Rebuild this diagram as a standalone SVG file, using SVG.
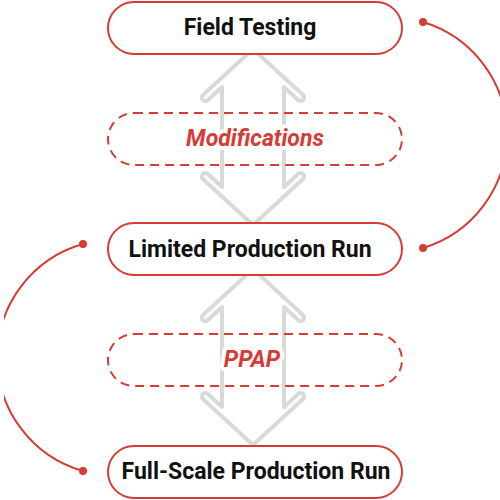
<svg xmlns="http://www.w3.org/2000/svg" width="500" height="500" viewBox="0 0 500 500">
<style>
.node rect{fill:#fff;stroke:#d63b35;stroke-width:2}
.dash rect{fill:none;stroke:#d63b35;stroke-width:2;stroke-dasharray:9 6}
.lbl{font-family:Roboto,"Liberation Sans",sans-serif;font-weight:bold;font-size:23px;fill:#111;text-anchor:middle}
.dlbl{font-family:Roboto,"Liberation Sans",sans-serif;font-weight:bold;font-style:italic;font-size:23px;fill:#d63b35;text-anchor:middle;stroke:#fff;stroke-width:8;paint-order:stroke;stroke-linejoin:round}
.arrow{fill:none;stroke:#d9d9d9;stroke-width:4;stroke-linejoin:round}
.curve{fill:none;stroke:#d63b35;stroke-width:2}
.dot{fill:#d63b35}
</style>
<defs>
<path id="dbl" d="M253,49 L203,95 A3.5,3.5 0 0 0 207.7,100.2 L222,87 L222,187 L207.7,173.8 A3.5,3.5 0 0 0 203,179 L253,225 L303,179 A3.5,3.5 0 0 0 298.3,173.8 L284,187 L284,87 L298.3,100.2 A3.5,3.5 0 0 0 303,95 Z"/>
<clipPath id="lc"><rect x="4" y="0" width="496" height="500"/></clipPath>
</defs>
<g id="connectors">
<use href="#dbl" class="arrow"/>
<use href="#dbl" class="arrow" transform="translate(0,220)"/>
<path class="curve" d="M423,22 A118,118 0 0 1 423,248"/>
<circle class="dot" cx="423" cy="22" r="4"/>
<circle class="dot" cx="423" cy="248" r="4"/>
<path class="curve" clip-path="url(#lc)" d="M83,244 A118,118 0 0 0 83,471"/>
<circle class="dot" cx="83" cy="244" r="4"/>
<circle class="dot" cx="83" cy="471" r="4"/>
</g>
<g id="field-testing" class="node">
<rect x="108" y="2" width="294" height="52" rx="26"/>
<text class="lbl" x="250" y="35">Field Testing</text>
</g>
<g id="modifications" class="dash">
<rect x="108" y="113" width="294" height="52" rx="26"/>
<text class="dlbl" x="255" y="146">Modifications</text>
</g>
<g id="limited-production-run" class="node">
<rect x="108" y="223" width="294" height="52" rx="26"/>
<text class="lbl" x="250" y="257">Limited Production Run</text>
</g>
<g id="ppap" class="dash">
<rect x="108" y="334" width="294" height="52" rx="26"/>
<text class="dlbl" x="252" y="367">PPAP</text>
</g>
<g id="full-scale-production-run" class="node">
<rect x="108" y="446" width="294" height="52" rx="26"/>
<text class="lbl" x="256" y="479">Full-Scale Production Run</text>
</g>
</svg>
